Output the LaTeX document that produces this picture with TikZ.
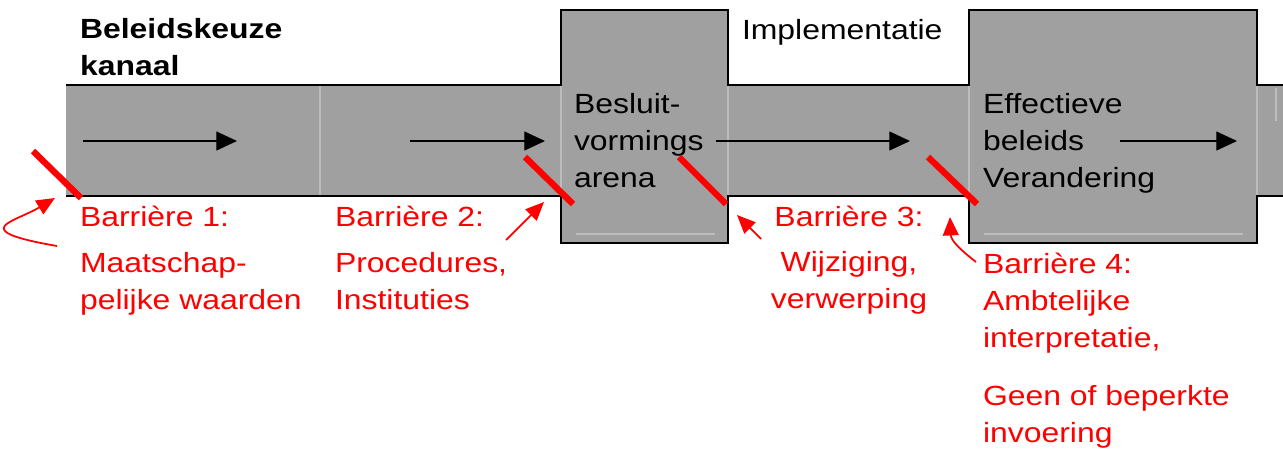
\documentclass[tikz,border=0pt]{standalone}
\usepackage{fontspec}
\setmainfont{Liberation Sans}[FakeStretch=1.15]
\usetikzlibrary{arrows.meta, positioning}

\definecolor{kanaalgrijs}{RGB}{160,160,160}
\definecolor{naadgrijs}{RGB}{188,188,188}

\begin{document}
\begin{tikzpicture}[
        x=0.02cm, y=-0.02cm,
        every node/.style={inner sep=0pt, outer sep=0pt, anchor=base west, align=left,
            font=\fontsize{15.8}{20.8}\selectfont},
        rand/.style={line width=1.1pt, line join=miter},
        naad/.style={naadgrijs, line width=0.6pt},
        stroom/.style={line width=0.8pt, -{Triangle[length=11.8pt, width=10.8pt]}},
        barriere/.style={text=red},
        blokkade/.style={red, line width=3.6pt},
        wijzer/.style={red, line width=1pt, -{Triangle[length=10.5pt, width=9pt]}}
    ]

    \useasboundingbox (0,0) rectangle (1283,450);

    % Kanaal en blokken
    \fill[kanaalgrijs] (66,85) rectangle (1283,196);
    \fill[kanaalgrijs] (561,10) rectangle (728,243);
    \fill[kanaalgrijs] (969,10) rectangle (1257,243);

    \foreach \x in {320, 561, 728, 969, 1257}
        \draw[naad] (\x,86) -- (\x,195);
    \draw[naad] (1276,88) -- (1276,121);
    \draw[naad] (576,234) -- (715,234);
    \draw[naad] (984,234) -- (1243,234);

    \draw[rand] (66,85) -- (561,85) -- (561,10) -- (728,10) -- (728,85)
        -- (969,85) -- (969,10) -- (1257,10) -- (1257,85) -- (1283,85);
    \draw[rand] (66,196) -- (561,196) -- (561,243) -- (728,243) -- (728,196)
        -- (969,196) -- (969,243) -- (1257,243) -- (1257,196) -- (1283,196);

    % Teksten (basislijn van de laatste regel)
    \node (kanaal) at (80,75) {\bfseries Beleidskeuze\\\bfseries kanaal};
    \node (implementatie) at (742,39.5) {Implementatie};
    \node (arena) at (574,187) {Besluit-\\vormings\\arena};
    \node (verandering) at (983,187) {Effectieve\\beleids\\Verandering};

    % Stroom door het kanaal
    \coordinate (p1a) at (83,141);   \coordinate (p1b) at (237,141);
    \coordinate (p2a) at (410,141);  \coordinate (p2b) at (545,141);
    \coordinate (p3a) at (716,141);  \coordinate (p3b) at (910,141);
    \coordinate (p4a) at (1120,141); \coordinate (p4b) at (1237,141);
    \foreach \i in {1,...,4}
        \draw[stroom] (p\i a) -- (p\i b);

    % Barrieres
    \draw[blokkade] (33,151) -- (81,198);
    \draw[blokkade] (525,157) -- (573,204);
    \draw[blokkade] (679,157) -- (726,204);
    \draw[blokkade] (928,157) -- (977,204);

    \node[barriere] (barriere1) at (80,226) {Barrière 1:};
    \node[barriere] (waarden) at (80,309) {Maatschap-\\pelijke waarden};
    \node[barriere] (barriere2) at (335,226) {Barrière 2:};
    \node[barriere] (procedures) at (335,309) {Procedures,\\Instituties};
    \node[barriere, anchor=base, align=center] (barriere3) at (849,226) {Barrière 3:};
    \node[barriere, anchor=base, align=center] (wijziging) at (849,308) {Wijziging,\\verwerping};
    \node[barriere] (barriere4) at (983,347) {Barrière 4:\\Ambtelijke\\interpretatie,};
    \node[barriere] (invoering) at (983,442) {Geen of beperkte\\invoering};

    % Verwijzingen naar de barrieres
    \coordinate (w1) at (57,246);  \coordinate (b1) at (55,198);
    \coordinate (w2) at (506,240); \coordinate (b2) at (544,202);
    \coordinate (w3) at (761,239); \coordinate (b3) at (737,215);
    \coordinate (w4) at (976,262); \coordinate (b4) at (950,217);
    \draw[wijzer] (w1) .. controls (-35,230) and (15,222) .. (b1);
    \draw[wijzer] (w2) -- (b2);
    \draw[wijzer] (w3) -- (b3);
    \draw[wijzer] (w4) .. controls (958,248) and (951,240) .. (b4);

\end{tikzpicture}
\end{document}
